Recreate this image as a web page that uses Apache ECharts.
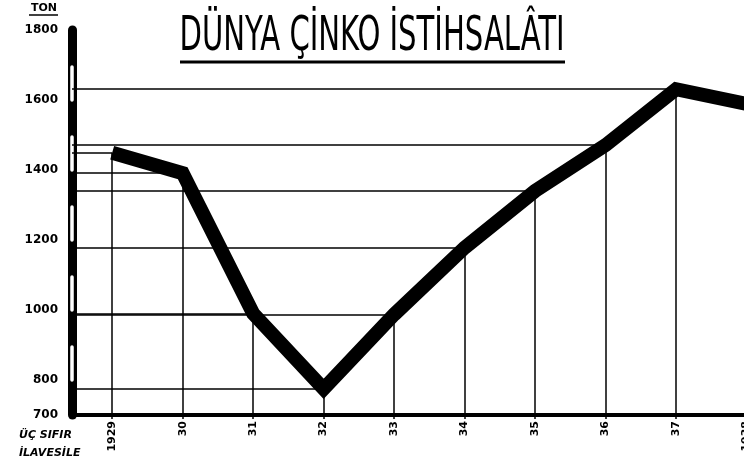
<!DOCTYPE html>
<html>
<head>
<meta charset="utf-8">
<script src="https://cdn.jsdelivr.net/npm/echarts@6/dist/echarts.min.js"></script>
<style>
  html, body { margin: 0; padding: 0; background: #fff; }
  #chart { width: 744px; height: 461px; }
</style>
</head>
<body>
<div id="chart"></div>
<script>
// world zinc production, thousand tons
const years = [1929, 1930, 1931, 1932, 1933, 1934, 1935, 1936, 1937, 1938];
const zinc = [1449, 1391, 990, 775, 987, 1178, 1340, 1471, 1631, 1589];
const xTickLabels = ['1929', '30', '31', '32', '33', '34', '35', '36', '37', '1938'];
const yTickValues = [700, 800, 1000, 1200, 1400, 1600, 1800];

const titleText = 'DÜNYA ÇİNKO İSTİHSALÂTI';
const unitText = 'TON';
const noteText = 'ÜÇ SIFIR\nİLAVESİLE';

const xMin = 1928.43;
const xMax = 1938;
const yMin = 700;
const yMax = 1800;
const dropCount = 9; // 1938 has no guide lines

// fit the condensed title lettering into its box
const titleFont = '24px "DejaVu Sans Condensed", "DejaVu Sans", sans-serif';
const ctx = document.createElement('canvas').getContext('2d');
ctx.font = titleFont;
const titleW = ctx.measureText(titleText).width;

const guides = [];
years.forEach((yr, i) => {
  if (i >= dropCount) return;
  guides.push([{ coord: [xMin, zinc[i]] }, { coord: [yr, zinc[i]] }]);
  guides.push([{ coord: [yr, zinc[i]] }, { coord: [yr, yMin] }]);
});

const chart = echarts.init(document.getElementById('chart'));

chart.setOption({
  animation: false,
  backgroundColor: '#fff',
  grid: {
    left: 72,
    right: -2.5,
    top: 30,
    bottom: 46,
    containLabel: false,
    outerBoundsMode: 'none',
  },
  xAxis: {
    type: 'value',
    min: xMin,
    max: xMax,
    axisLine: { lineStyle: { color: '#000', width: 4 } },
    axisTick: {
      customValues: years,
      length: 4,
      lineStyle: { color: '#000', width: 1.5 },
    },
    axisLabel: {
      customValues: years,
      rotate: 90,
      margin: 6,
      color: '#000',
      fontFamily: 'DejaVu Sans',
      fontWeight: 'bold',
      fontSize: 11,
      formatter: (v) => xTickLabels[years.indexOf(Math.round(v))] || '',
    },
    splitLine: { show: false },
  },
  yAxis: [
    {
      type: 'value',
      min: yMin,
      max: yMax,
      axisLine: { show: true, lineStyle: { color: '#000', width: 9, cap: 'round' } },
      axisTick: { show: false },
      axisLabel: {
        customValues: yTickValues,
        margin: 14,
        color: '#000',
        fontFamily: 'DejaVu Sans',
        fontWeight: 'bold',
        fontSize: 12,
        formatter: (v) => String(v),
      },
      splitLine: { show: false },
    },
    {
      type: 'value',
      min: yMin,
      max: yMax,
      position: 'left',
      offset: 0,
      z: 3,
      axisLine: {
        show: true,
        lineStyle: { color: '#fff', width: 3.5, type: [33, 37], dashOffset: 35 },
      },
      axisTick: { show: false },
      axisLabel: { show: false },
      splitLine: { show: false },
    },
  ],
  graphic: [
    {
      type: 'text',
      x: 372,
      y: 14,
      scaleX: 385 / titleW,
      scaleY: 2.0,
      style: {
        text: titleText,
        font: titleFont,
        fill: '#000',
        textAlign: 'center',
        textVerticalAlign: 'top',
      },
    },
    {
      type: 'line',
      shape: { x1: 180, y1: 62, x2: 565, y2: 62 },
      style: { stroke: '#000', lineWidth: 3 },
    },
    {
      type: 'text',
      x: 44,
      y: 3,
      scaleX: 1.1,
      style: {
        text: unitText,
        font: 'bold 10px "DejaVu Sans"',
        fill: '#000',
        textAlign: 'center',
        textVerticalAlign: 'top',
      },
    },
    {
      type: 'line',
      shape: { x1: 29, y1: 15, x2: 58, y2: 15 },
      style: { stroke: '#000', lineWidth: 1.5 },
    },
    {
      type: 'text',
      x: 19,
      y: 426,
      style: {
        text: noteText,
        font: 'italic bold 11px "DejaVu Sans"',
        fill: '#000',
        lineHeight: 18,
        textAlign: 'left',
        textVerticalAlign: 'top',
      },
    },
  ],
  series: [
    {
      type: 'line',
      data: years.map((yr, i) => [yr, zinc[i]]),
      symbol: 'none',
      clip: true,
      lineStyle: { color: '#000', width: 14, join: 'miter', cap: 'butt', miterLimit: 10 },
      markLine: {
        silent: true,
        symbol: ['none', 'none'],
        label: { show: false },
        lineStyle: { color: '#000', width: 1.5, type: 'solid' },
        data: guides,
      },
    },
  ],
});
</script>
</body>
</html>
